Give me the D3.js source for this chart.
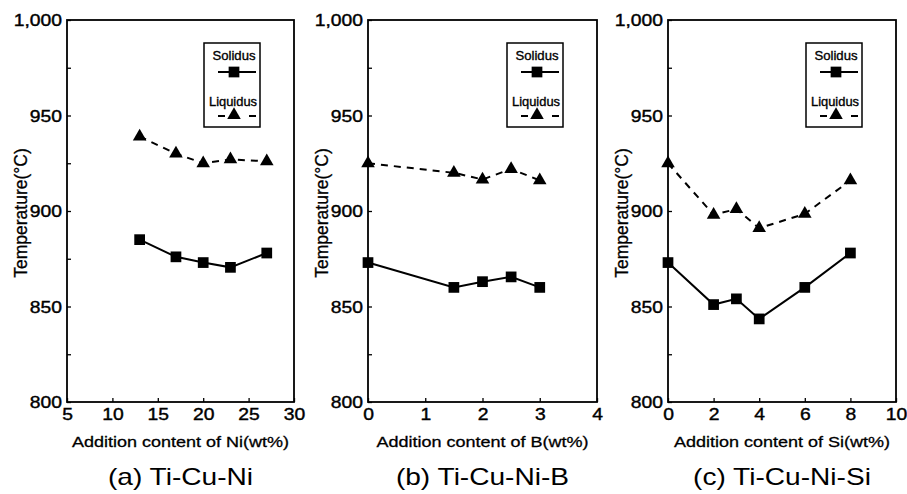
<!DOCTYPE html>
<html>
<head>
<meta charset="utf-8">
<script src="https://cdn.jsdelivr.net/npm/d3@7"></script>
<style>
  html, body { margin: 0; padding: 0; background: #fff; }
  svg { display: block; }
</style>
</head>
<body>
<svg id="chart" width="907" height="494"></svg>
<script>
// ---------------- data ----------------
const niX        = [13, 17, 20, 23, 27];
const niSolidus  = [885, 876, 873, 870.5, 878];
const niLiquidus = [939, 930, 925, 927, 926];

const bX        = [0, 1.5, 2, 2.5, 3];
const bSolidus  = [873, 860, 863, 865.5, 860];
const bLiquidus = [925, 920, 916.5, 922, 916];

const siX        = [0, 2, 3, 4, 6, 8];
const siSolidus  = [873, 851, 854, 843.5, 860, 878];
const siLiquidus = [925, 898, 901, 891, 898.5, 916];

const niTicks = [5, 10, 15, 20, 25, 30];
const bTicks  = [0, 1, 2, 3, 4];
const siTicks = [0, 2, 4, 6, 8, 10];
const yTicks  = [800, 825, 850, 875, 900, 925, 950, 975, 1000];

const xTitles  = ["Addition content of Ni(wt%)", "Addition content of B(wt%)", "Addition content of Si(wt%)"];
const captions = ["(a) Ti-Cu-Ni", "(b) Ti-Cu-Ni-B", "(c) Ti-Cu-Ni-Si"];
const yTitle   = "Temperature(\u00B0C)";
const legendLabels = ["Solidus", "Liquidus"];

// ---------------- layout ----------------
const panels = [
  {x: niX, sol: niSolidus, liq: niLiquidus, ticks: niTicks, left: 67,  right: 294},
  {x: bX,  sol: bSolidus,  liq: bLiquidus,  ticks: bTicks,  left: 368, right: 597},
  {x: siX, sol: siSolidus, liq: siLiquidus, ticks: siTicks, left: 668, right: 896}
];
const plotTop = 20, plotBottom = 402;
const FONT = "'Liberation Sans', Arial, Helvetica, sans-serif";
const STRETCH = 1.17;

const svg = d3.select("#chart");

function stretch(sel, f) {
  sel.each(function() {
    const n = this;
    const L = n.getComputedTextLength();
    if (L > 0) {
      n.setAttribute("textLength", (L * f).toFixed(2));
      n.setAttribute("lengthAdjust", "spacingAndGlyphs");
    }
  });
}

panels.forEach((p, i) => {
  const g = svg.append("g");
  const x = d3.scaleLinear().domain([p.ticks[0], p.ticks[p.ticks.length - 1]]).range([p.left, p.right]);
  const y = d3.scaleLinear().domain([800, 1000]).range([plotBottom, plotTop]);

  // y axis
  const ya = g.append("g").attr("transform", `translate(${p.left},0)`)
    .call(d3.axisLeft(y).tickValues(yTicks).tickSize(-4).tickSizeOuter(0).tickPadding(5)
      .tickFormat(d => d % 50 === 0 ? d3.format(",")(d) : ""));
  ya.select(".domain").remove();
  ya.selectAll("line").attr("stroke", "#000").attr("stroke-width", 1.3);
  ya.selectAll("text").attr("font-family", FONT).attr("font-size", 16.5)
    .attr("fill", "#000").attr("stroke", "#000").attr("stroke-width", 0.4).attr("dy", "0.36em");
  stretch(ya.selectAll("text"), STRETCH);

  // x axis
  const xa = g.append("g").attr("transform", `translate(0,${plotBottom})`)
    .call(d3.axisBottom(x).tickValues(p.ticks).tickSize(-4).tickSizeOuter(0).tickPadding(6)
      .tickFormat(d3.format("d")));
  xa.select(".domain").remove();
  xa.selectAll("line").attr("stroke", "#000").attr("stroke-width", 1.3);
  xa.selectAll("text").attr("font-family", FONT).attr("font-size", 16.5)
    .attr("fill", "#000").attr("stroke", "#000").attr("stroke-width", 0.4);
  stretch(xa.selectAll("text"), STRETCH);

  // frame
  g.append("rect").attr("x", p.left).attr("y", plotTop)
    .attr("width", p.right - p.left).attr("height", plotBottom - plotTop)
    .attr("fill", "none").attr("stroke", "#000").attr("stroke-width", 1.8);

  // lines
  const line = d3.line().x((d, j) => x(p.x[j])).y(d => y(d));
  g.append("path").datum(p.liq).attr("d", line)
    .attr("fill", "none").attr("stroke", "#000").attr("stroke-width", 2)
    .attr("stroke-dasharray", "7,6");
  g.append("path").datum(p.sol).attr("d", line)
    .attr("fill", "none").attr("stroke", "#000").attr("stroke-width", 2);

  // markers
  const sq = d3.symbol().type(d3.symbolSquare).size(115);
  const tri = d3.symbol().type(d3.symbolTriangle).size(80);
  g.selectAll(".sq").data(p.sol).enter().append("path")
    .attr("d", sq).attr("transform", (d, j) => `translate(${x(p.x[j])},${y(d)})`).attr("fill", "#000");
  g.selectAll(".tri").data(p.liq).enter().append("path")
    .attr("d", tri).attr("transform", (d, j) => `translate(${x(p.x[j])},${y(d)})`).attr("fill", "#000");

  // legend
  const bx = p.right - 90, bw = 56;
  const lg = g.append("g");
  lg.append("rect").attr("x", bx).attr("y", 43).attr("width", bw).attr("height", 84)
    .attr("fill", "#fff").attr("stroke", "#000").attr("stroke-width", 1.5);
  lg.append("text").attr("x", bx + 30).attr("y", 60).attr("text-anchor", "middle")
    .attr("font-family", FONT).attr("font-size", 13).attr("fill", "#000")
    .attr("stroke", "#000").attr("stroke-width", 0.35)
    .attr("textLength", 43).attr("lengthAdjust", "spacingAndGlyphs").text(legendLabels[0]);
  lg.append("line").attr("x1", bx + 14).attr("x2", bx + 52).attr("y1", 72).attr("y2", 72)
    .attr("stroke", "#000").attr("stroke-width", 2);
  lg.append("path").attr("d", sq).attr("transform", `translate(${bx + 30},72)`).attr("fill", "#000");
  lg.append("text").attr("x", bx + 29).attr("y", 106).attr("text-anchor", "middle")
    .attr("font-family", FONT).attr("font-size", 13).attr("fill", "#000")
    .attr("stroke", "#000").attr("stroke-width", 0.35)
    .attr("textLength", 48).attr("lengthAdjust", "spacingAndGlyphs").text(legendLabels[1]);
  lg.append("line").attr("x1", bx + 14).attr("x2", bx + 52).attr("y1", 116).attr("y2", 116)
    .attr("stroke", "#000").attr("stroke-width", 2).attr("stroke-dasharray", "7,24");
  lg.append("path").attr("d", tri).attr("transform", `translate(${bx + 30},115)`).attr("fill", "#000");

  // axis titles
  const xt = g.append("text").attr("x", (p.left + p.right) / 2).attr("y", 447)
    .attr("text-anchor", "middle").attr("font-family", FONT).attr("font-size", 15.4)
    .attr("fill", "#000").attr("stroke", "#000").attr("stroke-width", 0.3).text(xTitles[i]);
  stretch(xt, STRETCH);

  g.append("text").attr("transform", `translate(${p.left - 40},213) rotate(-90)`)
    .attr("text-anchor", "middle").attr("font-family", FONT).attr("font-size", 17.5)
    .attr("fill", "#000").attr("stroke", "#000").attr("stroke-width", 0.3).text(yTitle);

  // caption
  const cp = g.append("text").attr("x", (p.left + p.right) / 2).attr("y", 485)
    .attr("text-anchor", "middle").attr("font-family", FONT).attr("font-size", 24)
    .attr("fill", "#000").text(captions[i]);
  stretch(cp, STRETCH);
});
</script>
</body>
</html>
